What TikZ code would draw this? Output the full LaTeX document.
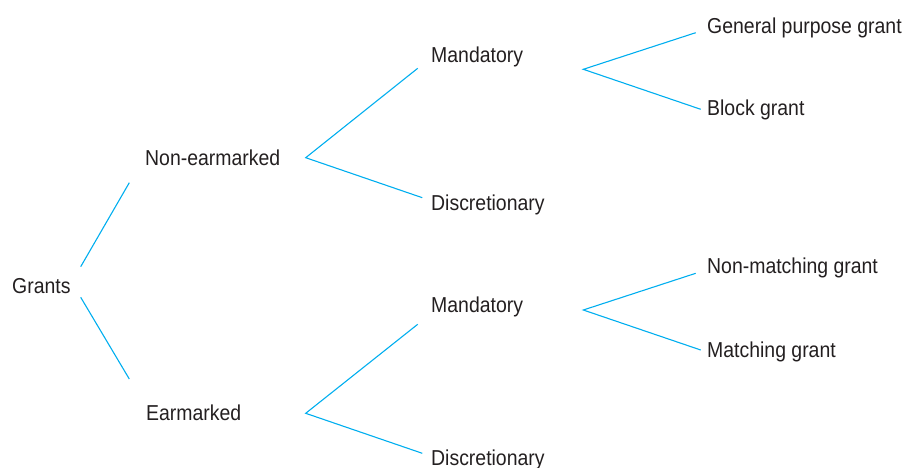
\documentclass[tikz,border=0pt]{standalone}
\usepackage{fontspec}
\setmainfont{Liberation Sans}[FakeStretch=0.9]
\usepackage{tikz}
\usetikzlibrary{positioning, calc}

\definecolor{branchblue}{RGB}{0,174,239}
\definecolor{labelgrey}{RGB}{35,31,32}

\begin{document}
\begin{tikzpicture}[
        x=1pt, y=-1pt,
        label/.style={anchor=base west, inner sep=0pt, text=labelgrey, font=\fontsize{21.6}{24}\selectfont},
        branch/.style={draw=branchblue, line width=1.1pt}
    ]
        \useasboundingbox (0,0) rectangle (902,468);

        % Level 0
        \node[label] (grants) at (12, 293) {Grants};

        % Level 1
        \node[label] (nonear) at (145, 165) {Non-earmarked};
        \node[label] (ear) at (146, 420) {Earmarked};

        % Level 2
        \node[label] (mand1) at (431, 63) {Mandatory};
        \node[label] (disc1) at (431, 210) {Discretionary};
        \node[label] (mand2) at (431, 312) {Mandatory};
        \node[label] (disc2) at (431, 465) {Discretionary};

        % Level 3
        \node[label] (general) at (707, 34) {General purpose grant};
        \node[label] (block) at (707, 116) {Block grant};
        \node[label] (nonmatch) at (707, 273) {Non-matching grant};
        \node[label] (match) at (707, 357) {Matching grant};

        % Line ends
        \coordinate (grants-up) at (80.7, 266.7);
        \coordinate (grants-dn) at (80.7, 297.3);
        \coordinate (nonear-in) at (129.3, 182.7);
        \coordinate (ear-in) at (129.3, 379);

        \coordinate (nonear-out) at (305.7, 157.7);
        \coordinate (mand1-in) at (417.7, 68.3);
        \coordinate (disc1-in) at (422.3, 197.7);

        \coordinate (ear-out) at (305.7, 413.3);
        \coordinate (mand2-in) at (417.7, 324.3);
        \coordinate (disc2-in) at (422.3, 453.3);

        \coordinate (mand1-out) at (583.3, 69.3);
        \coordinate (general-in) at (695.7, 32.7);
        \coordinate (block-in) at (700.7, 109.3);

        \coordinate (mand2-out) at (583.3, 310);
        \coordinate (nonmatch-in) at (695.7, 273.3);
        \coordinate (match-in) at (700.7, 350);

        % Branches
        \draw[branch] (grants-up) -- (nonear-in);
        \draw[branch] (grants-dn) -- (ear-in);
        \draw[branch] (mand1-in) -- (nonear-out) -- (disc1-in);
        \draw[branch] (mand2-in) -- (ear-out) -- (disc2-in);
        \draw[branch] (general-in) -- (mand1-out) -- (block-in);
        \draw[branch] (nonmatch-in) -- (mand2-out) -- (match-in);
    \end{tikzpicture}
\end{document}
